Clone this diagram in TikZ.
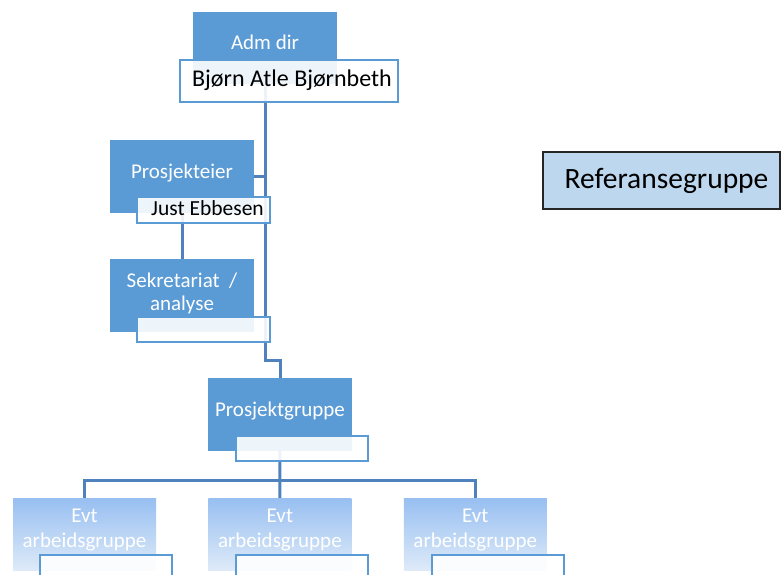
\documentclass[tikz,border=0pt]{standalone}
\usepackage{fontspec}
\setmainfont{Carlito}
\usepackage{tikz}
\usetikzlibrary{positioning, backgrounds}
\definecolor{boxblue}{HTML}{5B9BD5}
\definecolor{lineblue}{HTML}{4F81BD}
\definecolor{reffill}{HTML}{BDD7EE}
\definecolor{evttop}{HTML}{97BFF1}
\definecolor{evtbottom}{HTML}{DEEAF8}
\tikzset{
  unitbox/.style={rectangle, fill=boxblue, text=white, minimum width=144pt, minimum height=73pt, inner sep=0pt, font=\fontsize{21}{23}\selectfont},
  oneline/.style={text height=15pt, text depth=11pt},
  evtbox/.style={unitbox, fill=none, top color=evttop, bottom color=evtbottom, minimum width=143pt, minimum height=72pt, font=\fontsize{21}{25}\selectfont},
  namebox/.style={rectangle, draw=boxblue, line width=2.5pt, fill=white, fill opacity=0.9, text opacity=1, text=black, minimum height=25pt, minimum width=132pt, inner sep=0pt, font=\fontsize{21}{23}\selectfont},
  conn/.style={draw=lineblue, line width=3pt},
  refbox/.style={rectangle, draw=black!85, line width=1.5pt, fill=reffill, minimum width=237pt, minimum height=57pt, inner sep=0pt, font=\fontsize{29.5}{32}\selectfont}
}

\begin{document}
\begin{tikzpicture}[x=1pt, y=-1pt]
\useasboundingbox (0,0) rectangle (782,575);

% Ledelse
\node (adm) [unitbox, oneline, minimum height=72pt] at (265,48) {Adm dir};
\node (admname) [namebox, minimum width=218pt, minimum height=42pt, font=\fontsize{24}{26}\selectfont, text height=17pt, text depth=6pt] at (289,81) {\hspace{6pt}Bjørn Atle Bjørnbeth};

% Prosjekteier og sekretariat
\node (eier) [unitbox, oneline] at (182,176.5) {Prosjekteier};
\node (eiername) [namebox, minimum width=133pt, minimum height=26pt, text height=15pt, text depth=5pt, font=\fontsize{21.5}{23}\selectfont] at (203.5,210) {\hspace{8pt}Just Ebbesen};
\node (sek) [unitbox, align=center, text depth=7pt] at (182,295.5) {Sekretariat\ \ /\\analyse};
\node (sekname) [namebox, minimum width=133pt] at (203.5,329.5) {};

% Prosjektgruppe
\node (pg) [unitbox, oneline] at (280,414.5) {Prosjektgruppe};
\node (pgname) [namebox] at (302,448.5) {};

% Arbeidsgrupper
\node (evt1) [evtbox, align=center, text depth=12pt] at (84.5,534) {Evt\\arbeidsgruppe};
\node (evt2) [evtbox, align=center, text depth=12pt, right=52pt of evt1] {Evt\\arbeidsgruppe};
\node (evt3) [evtbox, align=center, text depth=12pt, right=52pt of evt2] {Evt\\arbeidsgruppe};
\node (evt1name) [namebox] at (106,567.5) {};
\node (evt2name) [namebox] at (302,567.5) {};
\node (evt3name) [namebox] at (498,567.5) {};

% Referansegruppe
\node (ref) [refbox] at (661.5,180.5) {\hspace{10pt}Referansegruppe};

% Connections
\coordinate (bend) at (265,360);
\coordinate (split) at (280,480);
\begin{scope}[on background layer]
\draw [conn] (adm.center) -- (bend) -| (pg.north);
\draw [conn] (eier.east) -- (eier.east -| bend);
\draw [conn] (eier.south) -- (sek.north);
\draw [conn] (pg.center) -- (evt2.north);
\draw [conn] (evt1.north) |- (split) -| (evt3.north);
\end{scope}

\end{tikzpicture}
\end{document}
